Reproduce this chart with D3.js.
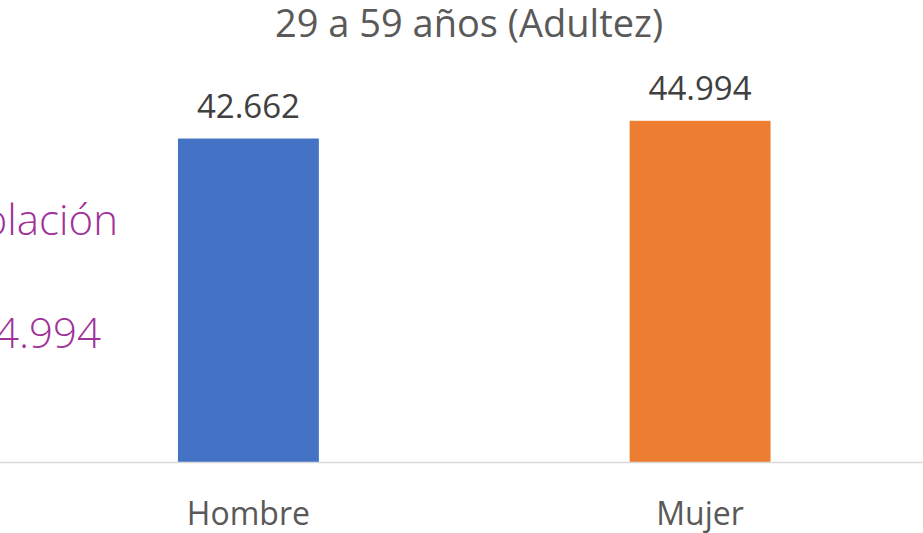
<!DOCTYPE html>
<html>
<head>
<meta charset="utf-8">
<script src="https://cdn.jsdelivr.net/npm/d3@7"></script>
<style>
  html, body { margin: 0; padding: 0; background: #fff; overflow: hidden; }
  text { font-family: "Open Sans", sans-serif; }
</style>
</head>
<body>
<div id="chart"></div>
<script>
const width = 923, height = 533;

const title = "29 a 59 años (Adultez)";
const categories = ["Hombre", "Mujer"];
const values = [42662, 44994];
const colors = ["#4472c4", "#ed7d31"];
// text box overlapping the chart on the left, cut off by the edge
const sideLines = ["Población", "44.994"];

const fmt = v => d3.format(",")(v).replace(/,/g, ".");

const svg = d3.select("#chart").append("svg")
    .attr("width", width)
    .attr("height", height)
    .style("background-color", "white");

const x = d3.scaleBand()
    .domain(categories)
    .range([0, 948.5])
    .paddingInner(0.688)
    .paddingOuter(0.394);

const y = d3.scaleLinear()
    .domain([0, 50000])
    .range([462.5, 82.8]);

svg.append("text")
    .attr("x", 469)
    .attr("y", 37)
    .attr("text-anchor", "middle")
    .style("font-size", "38px")
    .style("fill", "#595959")
    .text(title);

svg.selectAll(".bar")
    .data(values)
    .enter().append("rect")
    .attr("class", "bar")
    .attr("x", (d, i) => x(categories[i]))
    .attr("width", x.bandwidth())
    .attr("y", d => y(d))
    .attr("height", d => y(0) - y(d))
    .style("fill", (d, i) => colors[i]);

svg.append("line")
    .attr("x1", 0)
    .attr("x2", width)
    .attr("y1", y(0))
    .attr("y2", y(0))
    .style("stroke", "#d9d9d9")
    .style("stroke-width", 1.5);

svg.selectAll(".value")
    .data(values)
    .enter().append("text")
    .attr("class", "value")
    .attr("x", (d, i) => x(categories[i]) + x.bandwidth() / 2)
    .attr("y", d => y(d) - 21)
    .attr("text-anchor", "middle")
    .style("font-size", "33px")
    .style("fill", "#404040")
    .text(d => fmt(d));

svg.selectAll(".cat")
    .data(categories)
    .enter().append("text")
    .attr("class", "cat")
    .attr("x", d => x(d) + x.bandwidth() / 2)
    .attr("y", 525)
    .attr("text-anchor", "middle")
    .style("font-size", "32px")
    .style("fill", "#595959")
    .text(d => d);

svg.selectAll(".side")
    .data(sideLines)
    .enter().append("text")
    .attr("class", "side")
    .attr("x", (d, i) => [118, 101][i])
    .attr("y", (d, i) => [235, 348][i])
    .attr("text-anchor", "end")
    .style("font-size", "42px")
    .style("font-weight", 300)
    .style("fill", "#a0329a")
    .text(d => d);
</script>
</body>
</html>
